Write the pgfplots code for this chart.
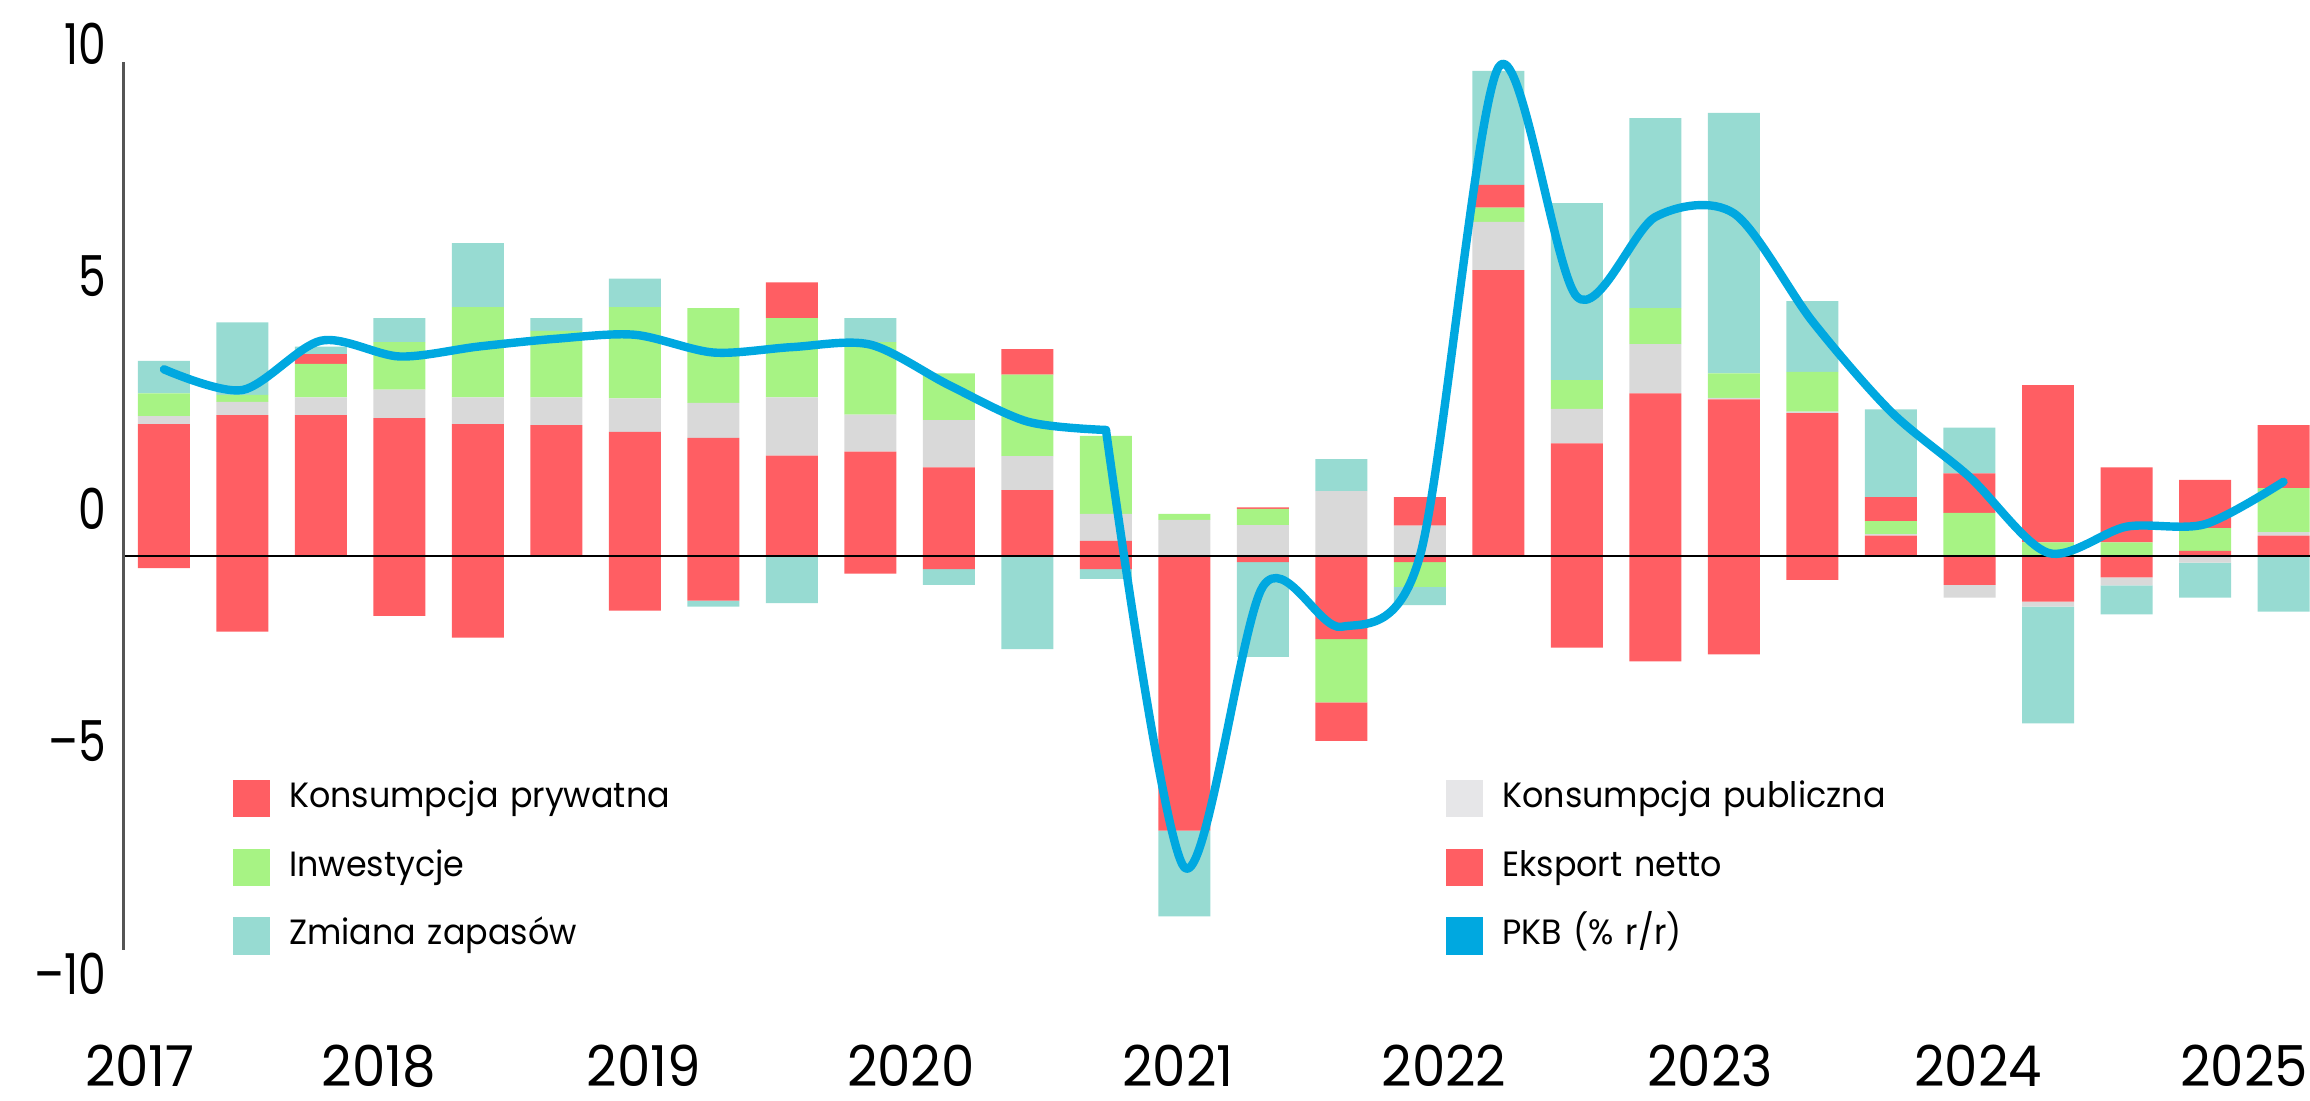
\documentclass[border=0pt]{standalone}
\usepackage{pgfplots}
\pgfplotsset{compat=1.18}
\usepackage{pgfplotstable}
\usepackage{fontspec}
\setmainfont{Poppins}
\newfontfamily\numfont[FakeStretch=0.78]{Poppins}
\newfontfamily\yearfont[FakeStretch=0.94]{Poppins}
\newfontfamily\legfont[FakeStretch=0.95]{Poppins}
\definecolor{kp}{HTML}{FF5E63}
\definecolor{inw}{HTML}{A7F384}
\definecolor{zap}{HTML}{97DBD2}
\definecolor{kpub}{HTML}{D9D9D9}
\definecolor{kpubleg}{HTML}{E6E6E8}
\definecolor{pkb}{HTML}{00A8E0}
\definecolor{axg}{HTML}{555555}

\pgfplotstableread{
i  kp     kpub   inw    eks    zap    pkb
0  2.67   0.16   0.46  -0.25   0.66   3.78
1  2.85   0.27   0.14  -1.54   1.47   3.36
2  2.85   0.36   0.68   0.20   0.15   4.36
3  2.79   0.58   0.96  -1.22   0.49   4.04
4  2.67   0.54   1.83  -1.66   1.30   4.24
5  2.65   0.56   1.35   0.00   0.26   4.40
6  2.51   0.68   1.85  -1.11   0.58   4.48
7  2.39   0.71   1.92  -0.91  -0.12   4.12
8  2.03   1.18   1.61   0.72  -0.96   4.23
9  2.11   0.75   1.47  -0.36   0.49   4.28
10 1.79   0.96   0.95  -0.27  -0.32   3.46
11 1.33   0.69   1.65   0.52  -1.89   2.72
12 0.30   0.55   1.58  -0.27  -0.20   2.55
13 -5.13  0.73   0.12  -0.44  -1.74  -6.32
14 -0.13  0.62   0.33   0.03  -1.92  -0.62
15 -1.69  1.31  -1.28  -0.78   0.65  -1.44
16 -0.13  0.61  -0.50   0.58  -0.37   0.00
17 5.79   0.98   0.29   0.46   2.31   9.90
18 2.28   0.70   0.58  -1.86   3.59   5.25
19 3.29   1.00   0.73  -2.14   3.85   6.87
20 3.17   0.03   0.50  -2.00   5.28   6.94
21 2.89   0.03   0.81  -0.49   1.43   4.75
22 0.41   0.03   0.26   0.49   1.78   2.92
23 -0.59 -0.26   0.87   0.80   0.93   1.60
24 -0.93 -0.10   0.27   3.19  -2.37   0.06
25 -0.44 -0.16   0.27   1.52  -0.59   0.59
26 0.10  -0.14   0.46   0.98  -0.71   0.64
27 0.41   0.07   0.89   1.28  -1.13   1.50
}\gdp

\pgfplotsset{
  frameaxis/.style={
    at={(41.167bp,40bp)}, anchor=south west,
    scale only axis, width=728.833bp, height=314.06bp,
    xmin=-0.5153, xmax=27.338, ymin=-8.6, ymax=10.5,
    clip=false,
  },
}

\begin{document}
\begin{tikzpicture}
\useasboundingbox (0,0) rectangle (770bp,366.667bp);
% positive stacks, ticks and legend
\begin{axis}[
  frameaxis,
  axis line style={draw=none},
  ybar stacked, bar width=17.333bp,
  major tick length=0pt,
  tick style={draw=none},
  /pgf/number format/assume math mode=true,
  xtick={-0.305,2.739,6.115,9.516,12.917,16.306,19.695,23.109,26.498},
  xticklabels={2017,2018,2019,2020,2021,2022,2023,2024,2025},
  ytick={10.385,5.667,0.945,-3.756,-8.479},
  yticklabels={10,5,0,–5,–10},
  xticklabel style={anchor=base, inner sep=0pt, yshift=-35.5bp, font=\yearfont\fontsize{18.8bp}{22bp}\selectfont},
  yticklabel style={anchor=east, inner sep=0pt, xshift=-5.5bp, font=\numfont\fontsize{18.8bp}{22bp}\selectfont},
  legend columns=2,
  legend cell align=left,
  legend style={at={(0.0501,0.2123)}, anchor=north west, draw=none, fill=none,
    inner sep=0pt, outer sep=0pt, column sep=6.333bp, row sep=10.5bp,
    font=\legfont\fontsize{11.7bp}{14bp}\selectfont,
    nodes={inner sep=0pt, text height=8.5bp, text depth=2.5bp, text width=379.33bp, align=left}},
]
\addplot[fill=kp, draw=none, forget plot] table[x=i, y expr={max(\thisrow{kp},0)}]{\gdp};
\addplot[fill=kpub, draw=none, forget plot] table[x=i, y expr={max(\thisrow{kpub},0)}]{\gdp};
\addplot[fill=inw, draw=none, forget plot] table[x=i, y expr={max(\thisrow{inw},0)}]{\gdp};
\addplot[fill=kp, draw=none, forget plot] table[x=i, y expr={max(\thisrow{eks},0)}]{\gdp};
\addplot[fill=zap, draw=none, forget plot] table[x=i, y expr={max(\thisrow{zap},0)}]{\gdp};

\addlegendimage{legend image code/.code={\fill[kp] (0bp,-6bp) rectangle (12bp,6bp);}}
\addlegendentry{Konsumpcja prywatna}
\addlegendimage{legend image code/.code={\fill[kpubleg] (0bp,-6bp) rectangle (12bp,6bp);}}
\addlegendentry{Konsumpcja publiczna}
\addlegendimage{legend image code/.code={\fill[inw] (0bp,-6bp) rectangle (12bp,6bp);}}
\addlegendentry{Inwestycje}
\addlegendimage{legend image code/.code={\fill[kp] (0bp,-6bp) rectangle (12bp,6bp);}}
\addlegendentry{Eksport netto}
\addlegendimage{legend image code/.code={\fill[zap] (0bp,-6bp) rectangle (12bp,6bp);}}
\addlegendentry{Zmiana zapasów}
\addlegendimage{legend image code/.code={\fill[pkb] (0bp,-6bp) rectangle (12bp,6bp);}}
\addlegendentry{PKB (\% r/r)}
\end{axis}

% negative stacks
\begin{axis}[frameaxis, hide axis, ybar stacked, bar width=17.333bp]
\addplot[fill=kp, draw=none] table[x=i, y expr={min(\thisrow{kp},0)}]{\gdp};
\addplot[fill=kpub, draw=none] table[x=i, y expr={min(\thisrow{kpub},0)}]{\gdp};
\addplot[fill=inw, draw=none] table[x=i, y expr={min(\thisrow{inw},0)}]{\gdp};
\addplot[fill=kp, draw=none] table[x=i, y expr={min(\thisrow{eks},0)}]{\gdp};
\addplot[fill=zap, draw=none] table[x=i, y expr={min(\thisrow{zap},0)}]{\gdp};
\end{axis}

% zero line, y axis line and GDP line
\begin{axis}[frameaxis, hide axis]
\addplot[black, line width=0.7bp, sharp plot, mark=none] coordinates {(-0.5153,0) (27.338,0)};
\addplot[axg, line width=0.8bp, sharp plot, mark=none] coordinates {(-0.5153,-7.99) (-0.5153,10)};
\addplot[pkb, line width=2.8bp, smooth, mark=none, line cap=round, line join=round,
  restrict x to domain=0:12] table[x=i, y=pkb]{\gdp};
\addplot[pkb, line width=2.8bp, smooth, mark=none, line cap=round, line join=round,
  restrict x to domain=12:27] table[x=i, y=pkb]{\gdp};
\end{axis}
\end{tikzpicture}
\end{document}
